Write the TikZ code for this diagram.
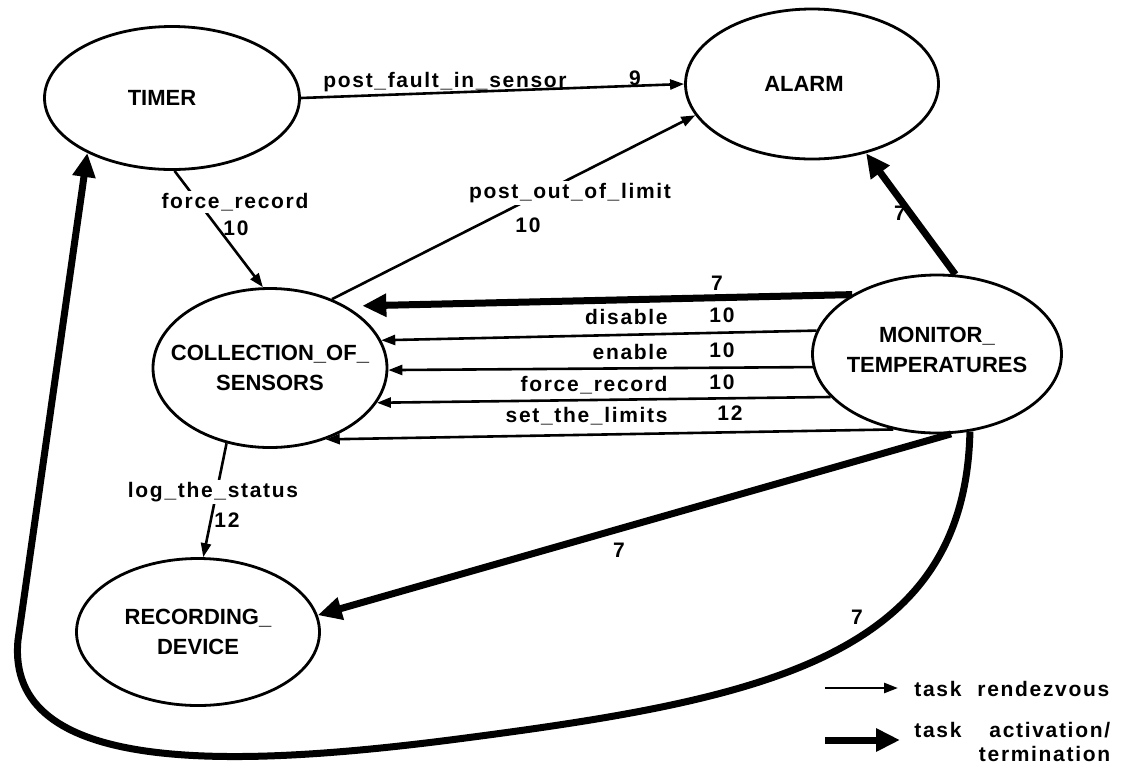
\documentclass[tikz,border=0pt]{standalone}
\usepackage{fontspec}
\setmainfont{Liberation Sans}
\newfontfamily\edgefont[LetterSpace=8]{Liberation Sans}
\usetikzlibrary{shapes.geometric,arrows.meta}

\tikzset{
  task/.style={draw, ellipse, line width=1.4pt, inner sep=0pt},
  taskname/.style={align=center, inner sep=0pt, font=\bfseries\fontsize{11}{15}\selectfont},
  rdv/.style={line width=1.3pt, -{Triangle[length=7pt,width=5pt]}},
  act/.style={line width=3.5pt, -{Triangle[length=12pt,width=11pt]}},
  lbl/.style={inner sep=1pt, font=\edgefont\bfseries\fontsize{10.5}{12}\selectfont},
}

\begin{document}
\begin{tikzpicture}[x=0.5pt,y=-0.5pt]
\path[use as bounding box, fill=white] (0,0) rectangle (1121,773);
% tasks
\node[task, minimum width=127.5pt, minimum height=71.5pt,
  label={[taskname, xshift=-5pt]center:TIMER}] (tmr) at (172,98) {};
\node[task, minimum width=126.5pt, minimum height=75pt,
  label={[taskname, xshift=-4pt]center:ALARM}] (alm) at (812,84) {};
\node[task, minimum width=117pt, minimum height=79.5pt,
  label={[taskname]center:COLLECTION\_OF\_\\SENSORS}] (col) at (270,368) {};
\node[task, minimum width=124.5pt, minimum height=79pt,
  label={[taskname, yshift=2pt]center:MONITOR\_\\TEMPERATURES}] (mon) at (937,354) {};
\node[task, minimum width=121.5pt, minimum height=73.5pt,
  label={[taskname]center:RECORDING\_\\DEVICE}] (rec) at (198,632) {};
% rendezvous
\draw[rdv] (tmr.east) -- (alm.west);
\draw[rdv] (tmr.272) -- (col.95);
\draw[rdv] (col.48) -- (alm.195);
\draw[rdv] (mon.169) -- (col.14);
\draw[rdv] (mon.186) -- (col.-1);
\draw[rdv] (mon.202) -- (col.-18);
\draw[rdv] (mon.240) -- (col.-52);
\draw[rdv] (col.240) -- (rec.86);
% activation / termination
\coordinate (lowbend) at (450,740);
\coordinate (leftbend) at (18,640);
\draw[act] (mon.77) -- (alm.308);
\draw[act, shorten >=8pt] (mon.145) -- (col.39);
\draw[act] (mon.280) -- (rec.8);
\draw[act] (mon.293) .. controls (965,660) and (760,700) .. (lowbend)
  .. controls (230,768) and (5,775) .. (leftbend) -- (tmr.213);
% labels
\node[lbl] (fault) at (445,82) {post\_fault\_in\_sensor};
\node[lbl] (faultp) at (635,78) {9};
\node[lbl, fill=white] (force) at (235,202) {force\_record};
\node[lbl] (forcep) at (236,228) {10};
\node[lbl, fill=white] (limit) at (570,193) {post\_out\_of\_limit};
\node[lbl] (limitp) at (528,225) {10};
\node[lbl] (almp) at (900,213) {7};
\node[lbl] (colp) at (717,283) {7};
\node[lbl, anchor=east] (dis) at (670,317) {disable};
\node[lbl] (disp) at (722,315) {10};
\node[lbl, anchor=east] (ena) at (670,352) {enable};
\node[lbl] (enap) at (722,350) {10};
\node[lbl, anchor=east] (frc) at (670,385) {force\_record};
\node[lbl] (frcp) at (722,382) {10};
\node[lbl, anchor=east] (lim) at (670,416) {set\_the\_limits};
\node[lbl] (limp) at (730,413) {12};
\node[lbl, fill=white] (log) at (213,492) {log\_the\_status};
\node[lbl] (logp) at (227,520) {12};
\node[lbl] (recp) at (619,550) {7};
\node[lbl] (tmrp) at (857,617) {7};
% legend
\coordinate (ka) at (825,688);
\coordinate (kb) at (898,688);
\coordinate (kc) at (825,740);
\coordinate (kd) at (900,740);
\draw[rdv] (ka) -- (kb);
\draw[act] (kc) -- (kd);
\node[lbl, anchor=west] (krdv) at (912,689) {task\hspace{8pt}rendezvous};
\node[lbl, anchor=west, align=right] (kact) at (912,742) {task\hspace{14pt}activation/\\termination};
\end{tikzpicture}
\end{document}
